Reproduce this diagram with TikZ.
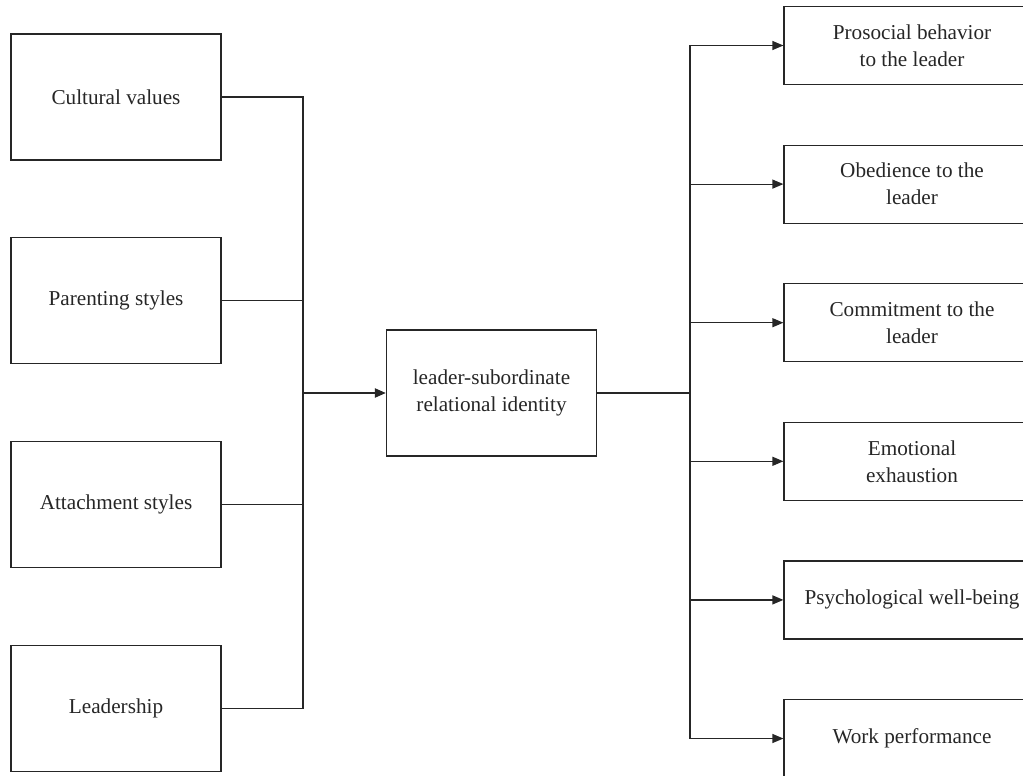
\documentclass[tikz,border=0pt]{standalone}
\usepackage{fontspec}
\setmainfont{Liberation Serif}
\usepackage{tikz}
\usetikzlibrary{positioning,arrows.meta}

\begin{document}
\begin{tikzpicture}[
    x=0.5pt, y=-0.5pt,
    node distance=38.3pt,
    leftbox/.style={rectangle, draw=black!85, line width=0.6pt, minimum width=105pt, minimum height=63pt, align=center, text=black!85, font=\fontsize{10.6}{13.5}\selectfont},
    rightbox/.style={leftbox, minimum width=128pt, minimum height=39pt},
    line/.style={draw=black!85, line width=0.6pt},
    arrow/.style={line, -{Triangle[length=5.5pt,width=4.5pt]}}
]
    \useasboundingbox (0,0) rectangle (1023,776);

    \node[leftbox] (cult) at (116,97) {Cultural values};
    \node[leftbox, below=of cult] (parent) {Parenting styles};
    \node[leftbox, below=of parent] (attach) {Attachment styles};
    \node[leftbox, below=of attach] (lead) {Leadership};

    \node[leftbox] (lsri) at (491.5,393) {leader-subordinate\\relational identity};

    \node[rightbox] (prosoc) at (912,45.5) {Prosocial behavior\\to the leader};
    \node[rightbox, below=29.7pt of prosoc] (obey) {Obedience to the\\leader};
    \node[rightbox, below=29.7pt of obey] (commit) {Commitment to the\\leader};
    \node[rightbox, below=29.7pt of commit] (exhaust) {Emotional\\exhaustion};
    \node[rightbox, below=29.7pt of exhaust] (wellb) {Psychological well-being};
    \node[rightbox, below=29.7pt of wellb] (perform) {Work performance};

    \coordinate (lbus) at (303,393);
    \coordinate (rbus) at (690,393);

    \draw[line] (cult.east) -| (lbus);
    \draw[line] (parent.east) -| (lbus);
    \draw[line] (attach.east) -| (lbus);
    \draw[line] (lead.east) -| (lbus);
    \draw[arrow, line width=1pt] (lbus) -- (lsri);
    \draw[line, line width=1pt] (lsri) -- (rbus);

    \draw[arrow] (rbus) |- (prosoc.west);
    \draw[arrow] (rbus) |- (obey.west);
    \draw[arrow] (rbus) |- (commit.west);
    \draw[arrow] (rbus) |- (exhaust.west);
    \draw[arrow] (rbus) |- (wellb.west);
    \draw[arrow] (rbus) |- (perform.west);
\end{tikzpicture}
\end{document}
